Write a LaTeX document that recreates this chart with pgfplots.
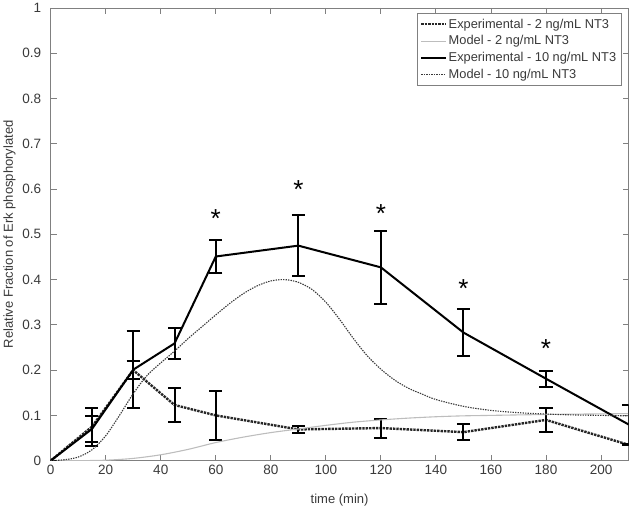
\documentclass[border=0pt]{standalone}
\usepackage{pgfplots}
\pgfplotsset{compat=1.18}
\usepackage{fontspec}
\setmainfont{Liberation Sans}
\definecolor{axgray}{HTML}{808080}
\definecolor{txtgray}{HTML}{3A3A3A}
\definecolor{modelgray}{HTML}{BDBDBD}
\definecolor{modeldark}{HTML}{3A3A3A}
\begin{document}
\begin{tikzpicture}
\begin{axis}[
  scale only axis,
  width=577pt, height=452pt,
  xmin=0, xmax=210, ymin=0, ymax=1,
  xtick={0,20,...,200},
  ytick={0,0.1,...,1},
  yticklabels={0,0.1,0.2,0.3,0.4,0.5,0.6,0.7,0.8,0.9,1},
  tick align=inside,
  major tick length=6pt,
  axis line style={axgray, line width=0.9pt},
  tick style={axgray, line width=0.9pt},
  /pgf/number format/assume math mode=true,
  ticklabel style={font=\fontsize{13.5}{15}\selectfont, text=txtgray},
  yticklabel style={xshift=-6pt},
  xticklabel style={yshift=-1pt},
  xlabel={time (min)},
  ylabel={Relative Fraction of Erk phosphorylated},
  label style={font=\fontsize{13}{15}\selectfont, text=txtgray},
  xlabel style={at={(axis description cs:0.5,0)}, anchor=north, yshift=-30pt},
  ylabel style={yshift=0pt},
  legend style={at={(rel axis cs:0.988,0.988)}, anchor=north east,
    font=\fontsize{12.8}{14}\selectfont, text=txtgray, draw=axgray, line width=0.9pt,
    inner sep=3pt, row sep=2pt},
  legend cell align=left,
  legend image code/.code={\draw[#1] (0cm,0cm) -- (0.85cm,0cm);},
]
% Experimental 2 ng/mL
\addplot[black!85, line width=2.4pt, densely dotted,
  error bars/.cd, y dir=both, y explicit,
  error bar style={solid, line width=2pt, black},
  error mark options={rotate=90, mark size=6.5pt, line width=2pt, black, solid}]
  coordinates {
  (0,0) +- (0,0)
  (15,0.075) +- (0,0.042)
  (30,0.200) +- (0,0.020)
  (45,0.123) +- (0,0.038)
  (60,0.100) +- (0,0.054)
  (90,0.069) +- (0,0.008)
  (120,0.072) +- (0,0.021)
  (150,0.063) +- (0,0.018)
  (180,0.090) +- (0,0.026)
  (210,0.035) +- (0,0.0)
  };
\addlegendentry{Experimental - 2 ng/mL NT3}
% Model 2 ng/mL
\addplot[modelgray, line width=1.1pt, smooth] coordinates {
  (0,0) (10,0) (20,0.001) (30,0.005) (40,0.013) (50,0.025) (60,0.040)
  (70,0.052) (80,0.062) (90,0.070) (100,0.078) (110,0.085) (120,0.090)
  (130,0.094) (140,0.097) (150,0.099) (160,0.100) (180,0.102) (210,0.104)
  };
\addlegendentry{Model - 2 ng/mL NT3}
% Experimental 10 ng/mL
\addplot[black, line width=2pt,
  error bars/.cd, y dir=both, y explicit,
  error bar style={solid, line width=2pt, black},
  error mark options={rotate=90, mark size=6.5pt, line width=2pt, black}]
  coordinates {
  (0,0) +- (0,0)
  (15,0.070) +- (0,0.028)
  (30,0.201) +- (0,0.085)
  (45,0.259) +- (0,0.035)
  (60,0.451) +- (0,0.037)
  (90,0.475) +- (0,0.068)
  (120,0.427) +- (0,0.081)
  (150,0.283) +- (0,0.051)
  (180,0.181) +- (0,0.018)
  (210,0.080) +- (0,0.044)
  };
\addlegendentry{Experimental - 10 ng/mL NT3}
% Model 10 ng/mL
\addplot[modeldark, line width=1.1pt, dash pattern=on 1.4pt off 1.1pt, smooth] coordinates {
  (0,0) (5,0.002) (10,0.008) (15,0.024) (20,0.055) (25,0.100) (30,0.148)
  (35,0.188) (40,0.216) (45,0.242) (50,0.270) (55,0.296) (60,0.322)
  (65,0.347) (70,0.369) (75,0.386) (80,0.397) (85,0.400) (90,0.394)
  (95,0.378) (100,0.350) (105,0.312) (110,0.270) (115,0.232) (120,0.202)
  (125,0.178) (130,0.160) (135,0.147) (140,0.135) (150,0.120) (160,0.111)
  (170,0.106) (180,0.103) (190,0.101) (200,0.100) (210,0.099)
  };
\addlegendentry{Model - 10 ng/mL NT3}
% significance stars
\addplot[only marks, mark=none, forget plot,
  nodes near coords={*},
  every node near coord/.style={anchor=center, font=\fontsize{26}{26}\selectfont, text=black}]
  coordinates {(60,0.535) (90,0.600) (120,0.545) (150,0.380) (180,0.247)};
\end{axis}
\end{tikzpicture}
\end{document}
